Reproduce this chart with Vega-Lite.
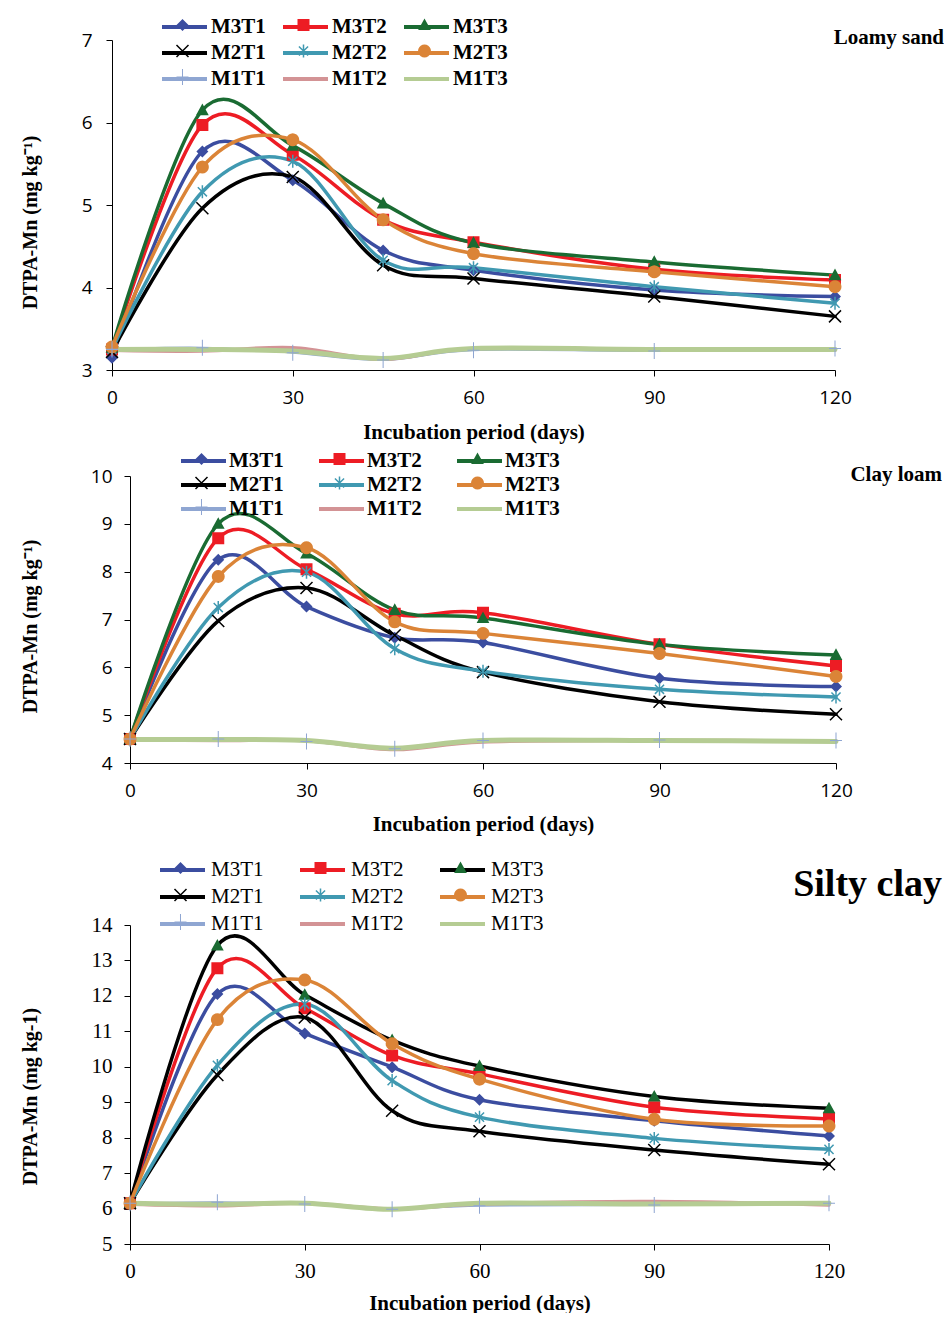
{
  "$schema": "https://vega.github.io/schema/vega-lite/v6.json",
  "padding": {"left": 20, "top": 13, "right": 0, "bottom": 0},
  "background": "white",
  "config": {
    "view": {"stroke": null},
    "axis": {"grid": false, "domainColor": "#000", "tickColor": "#000", "labelColor": "#000", "titleColor": "#000", "tickSize": 6, "domainWidth": 1, "tickWidth": 1, "labelOverlap": false},
    "title": {"offset": 0},
    "legend": {"padding": 0}
  },
  "datasets": {
    "p1": [
      {"d":0,"s":"M3T1","v":3.15},{"d":15,"s":"M3T1","v":5.65},{"d":30,"s":"M3T1","v":5.30},{"d":45,"s":"M3T1","v":4.45},{"d":60,"s":"M3T1","v":4.21},{"d":90,"s":"M3T1","v":3.97},{"d":120,"s":"M3T1","v":3.89},
      {"d":0,"s":"M3T2","v":3.25},{"d":15,"s":"M3T2","v":5.97},{"d":30,"s":"M3T2","v":5.61},{"d":45,"s":"M3T2","v":4.82},{"d":60,"s":"M3T2","v":4.55},{"d":90,"s":"M3T2","v":4.22},{"d":120,"s":"M3T2","v":4.09},
      {"d":0,"s":"M3T3","v":3.27},{"d":15,"s":"M3T3","v":6.15},{"d":30,"s":"M3T3","v":5.72},{"d":45,"s":"M3T3","v":5.02},{"d":60,"s":"M3T3","v":4.54},{"d":90,"s":"M3T3","v":4.31},{"d":120,"s":"M3T3","v":4.15},
      {"d":0,"s":"M2T1","v":3.22},{"d":15,"s":"M2T1","v":4.96},{"d":30,"s":"M2T1","v":5.34},{"d":45,"s":"M2T1","v":4.27},{"d":60,"s":"M2T1","v":4.11},{"d":90,"s":"M2T1","v":3.89},{"d":120,"s":"M2T1","v":3.65},
      {"d":0,"s":"M2T2","v":3.25},{"d":15,"s":"M2T2","v":5.16},{"d":30,"s":"M2T2","v":5.53},{"d":45,"s":"M2T2","v":4.33},{"d":60,"s":"M2T2","v":4.24},{"d":90,"s":"M2T2","v":4.01},{"d":120,"s":"M2T2","v":3.81},
      {"d":0,"s":"M2T3","v":3.28},{"d":15,"s":"M2T3","v":5.46},{"d":30,"s":"M2T3","v":5.79},{"d":45,"s":"M2T3","v":4.82},{"d":60,"s":"M2T3","v":4.41},{"d":90,"s":"M2T3","v":4.19},{"d":120,"s":"M2T3","v":4.01},
      {"d":0,"s":"M1T1","v":3.25},{"d":15,"s":"M1T1","v":3.27},{"d":30,"s":"M1T1","v":3.21},{"d":45,"s":"M1T1","v":3.12},{"d":60,"s":"M1T1","v":3.24},{"d":90,"s":"M1T1","v":3.23},{"d":120,"s":"M1T1","v":3.26},
      {"d":0,"s":"M1T2","v":3.24},{"d":15,"s":"M1T2","v":3.23},{"d":30,"s":"M1T2","v":3.27},{"d":45,"s":"M1T2","v":3.13},{"d":60,"s":"M1T2","v":3.26},{"d":90,"s":"M1T2","v":3.25},{"d":120,"s":"M1T2","v":3.24},
      {"d":0,"s":"M1T3","v":3.25},{"d":15,"s":"M1T3","v":3.25},{"d":30,"s":"M1T3","v":3.23},{"d":45,"s":"M1T3","v":3.14},{"d":60,"s":"M1T3","v":3.26},{"d":90,"s":"M1T3","v":3.25},{"d":120,"s":"M1T3","v":3.25}
    ],
    "p2": [
      {"d":0,"s":"M3T1","v":4.5},{"d":15,"s":"M3T1","v":8.25},{"d":30,"s":"M3T1","v":7.27},{"d":45,"s":"M3T1","v":6.62},{"d":60,"s":"M3T1","v":6.52},{"d":90,"s":"M3T1","v":5.77},{"d":120,"s":"M3T1","v":5.60},
      {"d":0,"s":"M3T2","v":4.5},{"d":15,"s":"M3T2","v":8.70},{"d":30,"s":"M3T2","v":8.05},{"d":45,"s":"M3T2","v":7.12},{"d":60,"s":"M3T2","v":7.14},{"d":90,"s":"M3T2","v":6.48},{"d":120,"s":"M3T2","v":6.03},
      {"d":0,"s":"M3T3","v":4.5},{"d":15,"s":"M3T3","v":9.00},{"d":30,"s":"M3T3","v":8.38},{"d":45,"s":"M3T3","v":7.20},{"d":60,"s":"M3T3","v":7.03},{"d":90,"s":"M3T3","v":6.48},{"d":120,"s":"M3T3","v":6.26},
      {"d":0,"s":"M2T1","v":4.5},{"d":15,"s":"M2T1","v":6.97},{"d":30,"s":"M2T1","v":7.66},{"d":45,"s":"M2T1","v":6.67},{"d":60,"s":"M2T1","v":5.90},{"d":90,"s":"M2T1","v":5.28},{"d":120,"s":"M2T1","v":5.02},
      {"d":0,"s":"M2T2","v":4.5},{"d":15,"s":"M2T2","v":7.25},{"d":30,"s":"M2T2","v":7.99},{"d":45,"s":"M2T2","v":6.39},{"d":60,"s":"M2T2","v":5.92},{"d":90,"s":"M2T2","v":5.54},{"d":120,"s":"M2T2","v":5.38},
      {"d":0,"s":"M2T3","v":4.5},{"d":15,"s":"M2T3","v":7.90},{"d":30,"s":"M2T3","v":8.50},{"d":45,"s":"M2T3","v":6.95},{"d":60,"s":"M2T3","v":6.71},{"d":90,"s":"M2T3","v":6.29},{"d":120,"s":"M2T3","v":5.81},
      {"d":0,"s":"M1T1","v":4.5},{"d":15,"s":"M1T1","v":4.50},{"d":30,"s":"M1T1","v":4.45},{"d":45,"s":"M1T1","v":4.30},{"d":60,"s":"M1T1","v":4.47},{"d":90,"s":"M1T1","v":4.48},{"d":120,"s":"M1T1","v":4.47},
      {"d":0,"s":"M1T2","v":4.48},{"d":15,"s":"M1T2","v":4.47},{"d":30,"s":"M1T2","v":4.47},{"d":45,"s":"M1T2","v":4.28},{"d":60,"s":"M1T2","v":4.44},{"d":90,"s":"M1T2","v":4.47},{"d":120,"s":"M1T2","v":4.46},
      {"d":0,"s":"M1T3","v":4.49},{"d":15,"s":"M1T3","v":4.49},{"d":30,"s":"M1T3","v":4.47},{"d":45,"s":"M1T3","v":4.31},{"d":60,"s":"M1T3","v":4.47},{"d":90,"s":"M1T3","v":4.47},{"d":120,"s":"M1T3","v":4.45}
    ],
    "p3": [
      {"d":0,"s":"M3T1","v":6.15},{"d":15,"s":"M3T1","v":12.05},{"d":30,"s":"M3T1","v":10.94},{"d":45,"s":"M3T1","v":9.99},{"d":60,"s":"M3T1","v":9.07},{"d":90,"s":"M3T1","v":8.48},{"d":120,"s":"M3T1","v":8.05},
      {"d":0,"s":"M3T2","v":6.15},{"d":15,"s":"M3T2","v":12.78},{"d":30,"s":"M3T2","v":11.65},{"d":45,"s":"M3T2","v":10.32},{"d":60,"s":"M3T2","v":9.80},{"d":90,"s":"M3T2","v":8.86},{"d":120,"s":"M3T2","v":8.53},
      {"d":0,"s":"M3T3","v":6.15},{"d":15,"s":"M3T3","v":13.42},{"d":30,"s":"M3T3","v":12.03},{"d":45,"s":"M3T3","v":10.75},{"d":60,"s":"M3T3","v":10.02},{"d":90,"s":"M3T3","v":9.16},{"d":120,"s":"M3T3","v":8.83},
      {"d":0,"s":"M2T1","v":6.15},{"d":15,"s":"M2T1","v":9.77},{"d":30,"s":"M2T1","v":11.39},{"d":45,"s":"M2T1","v":8.76},{"d":60,"s":"M2T1","v":8.18},{"d":90,"s":"M2T1","v":7.65},{"d":120,"s":"M2T1","v":7.25},
      {"d":0,"s":"M2T2","v":6.15},{"d":15,"s":"M2T2","v":10.04},{"d":30,"s":"M2T2","v":11.77},{"d":45,"s":"M2T2","v":9.61},{"d":60,"s":"M2T2","v":8.58},{"d":90,"s":"M2T2","v":7.98},{"d":120,"s":"M2T2","v":7.67},
      {"d":0,"s":"M2T3","v":6.15},{"d":15,"s":"M2T3","v":11.33},{"d":30,"s":"M2T3","v":12.45},{"d":45,"s":"M2T3","v":10.65},{"d":60,"s":"M2T3","v":9.65},{"d":90,"s":"M2T3","v":8.52},{"d":120,"s":"M2T3","v":8.33},
      {"d":0,"s":"M1T1","v":6.15},{"d":15,"s":"M1T1","v":6.18},{"d":30,"s":"M1T1","v":6.13},{"d":45,"s":"M1T1","v":5.98},{"d":60,"s":"M1T1","v":6.08},{"d":90,"s":"M1T1","v":6.10},{"d":120,"s":"M1T1","v":6.15},
      {"d":0,"s":"M1T2","v":6.12},{"d":15,"s":"M1T2","v":6.08},{"d":30,"s":"M1T2","v":6.15},{"d":45,"s":"M1T2","v":5.99},{"d":60,"s":"M1T2","v":6.13},{"d":90,"s":"M1T2","v":6.20},{"d":120,"s":"M1T2","v":6.10},
      {"d":0,"s":"M1T3","v":6.15},{"d":15,"s":"M1T3","v":6.12},{"d":30,"s":"M1T3","v":6.15},{"d":45,"s":"M1T3","v":5.98},{"d":60,"s":"M1T3","v":6.15},{"d":90,"s":"M1T3","v":6.13},{"d":120,"s":"M1T3","v":6.15}
    ]
  },
  "spacing": 5,
  "resolve": {"scale": {"color": "independent", "fill": "independent", "shape": "independent"}, "legend": {"color": "independent", "fill": "independent", "shape": "independent"}},
  "vconcat": [
    {
      "width": 723, "height": 330,
      "data": {"name": "p1"},
      "title": {"text": "Loamy sand", "anchor": "end", "frame": "group", "orient": "top", "font": "Liberation Serif", "fontSize": 21, "fontWeight": "bold", "color": "#000", "baseline": "middle", "dx": 109, "dy": 50},
      "encoding": {
        "x": {"field": "d", "type": "quantitative", "scale": {"domain": [0, 120], "nice": false, "zero": false},
          "axis": {"values": [0, 30, 60, 90, 120], "title": "Incubation period (days)", "labelFont": "Open Sans", "labelFontSize": 19, "labelPadding": 12, "labelFlush": false, "titleFont": "Liberation Serif", "titleFontSize": 21, "titleFontWeight": "bold", "titleBaseline": "middle", "titleY": 62}},
        "y": {"field": "v", "type": "quantitative", "scale": {"domain": [3, 7], "nice": false, "zero": false},
          "axis": {"values": [3, 4, 5, 6, 7], "title": "DTPA-Mn  (mg kg⁻¹)", "labelFont": "Open Sans", "labelFontSize": 19, "labelPadding": 14, "titleFont": "Liberation Serif", "titleFontSize": 20, "titleFontWeight": "bold", "titleBaseline": "middle", "titleX": -82, "titleY": 182}}
      },
      "layer": [
        {
          "mark": {"type": "line", "interpolate": "cardinal", "strokeCap": "round", "strokeJoin": "round"},
          "encoding": {
            "color": {"field": "s", "type": "nominal", "sort": ["M3T1","M3T2","M3T3","M2T1","M2T2","M2T3","M1T1","M1T2","M1T3"],
              "scale": {"range": ["#3B4DA0","#ED1C24","#1A6B32","#000000","#4099B1","#DB8437","#8FA6D2","#D39395","#B5CC93"]},
              "legend": {"orient": "none", "legendX": 48, "legendY": -27, "direction": "horizontal", "columns": 3, "title": null, "symbolType": "M-1,0L2.75,0M7.75,0L7.75,0", "symbolSize": 576, "symbolStrokeWidth": 4, "symbolOpacity": 1, "labelFont": "Liberation Serif", "labelFontSize": 21, "labelFontWeight": "bold", "labelColor": "#000", "labelOffset": 23, "columnPadding": 0, "rowPadding": 2, "gridAlign": "all", "padding": 0}},
            "strokeWidth": {"condition": [{"test": "datum.s === 'M1T1'", "value": 2}, {"test": "datum.s === 'M1T3'", "value": 5}], "value": 3.5}
          }
        },
        {
          "mark": {"type": "point", "filled": true, "size": 576, "opacity": 1, "strokeWidth": 0},
          "encoding": {
            "fill": {"field": "s", "type": "nominal",
              "scale": {"domain": ["M3T1","M3T2","M3T3","M2T1","M2T2","M2T3","M1T1","M1T2","M1T3"], "range": ["#3B4DA0","#ED1C24","#1A6B32","#000000","#4099B1","#DB8437","#8FA6D2","#D39395","#B5CC93"]},
              "legend": {"orient": "none", "legendX": 48, "legendY": -27, "direction": "horizontal", "columns": 3, "title": null, "symbolSize": 576, "symbolOffset": 10.5, "symbolStrokeWidth": 0, "symbolOpacity": 1, "labelExpr": "''", "labelFont": "Liberation Serif", "labelFontSize": 21, "labelFontWeight": "bold", "labelOpacity": 0, "labelOffset": 23, "columnPadding": 0, "rowPadding": 2, "gridAlign": "all", "padding": 0}},
            "shape": {"field": "s", "type": "nominal",
              "scale": {"domain": ["M3T1","M3T2","M3T3","M2T1","M2T2","M2T3","M1T1","M1T2","M1T3"], "range": [
                "M-2.54,0L7.54,0M0,-1L0,1M0,-0.5L0.5,0L0,0.5L-0.5,0Z",
                "M-2.54,0L7.54,0M0,-1L0,1M-0.5,-0.5L0.5,-0.5L0.5,0.5L-0.5,0.5Z",
                "M-2.54,0L7.54,0M0,-1L0,1M0,-0.55L0.53,0.42L-0.53,0.42Z",
                "M-2.54,0L7.54,0M0,-1L0,1M-0.456,-0.544L0.544,0.456L0.456,0.544L-0.544,-0.456ZM-0.544,0.456L0.456,-0.544L0.544,-0.456L-0.456,0.544Z",
                "M-2.54,0L7.54,0M0,-1L0,1M-0.0625,-0.54L0.0625,-0.54L0.0625,0.54L-0.0625,0.54ZM-0.336,-0.424L0.424,0.336L0.336,0.424L-0.424,-0.336ZM-0.424,0.336L0.336,-0.424L0.424,-0.336L-0.336,0.424Z",
                "M-2.54,0L7.54,0M0,-1L0,1M0.54,0L0.514,0.167L0.437,0.317L0.317,0.437L0.167,0.514L0,0.54L-0.167,0.514L-0.317,0.437L-0.437,0.317L-0.514,0.167L-0.54,0L-0.514,-0.167L-0.437,-0.317L-0.317,-0.437L-0.167,-0.514L0,-0.54L0.167,-0.514L0.317,-0.437L0.437,-0.317L0.514,-0.167Z",
                "M-2.54,0L7.54,0M0,-1L0,1M-0.042,-0.667L0.042,-0.667L0.042,0.667L-0.042,0.667ZM-0.5,-0.042L0.5,-0.042L0.5,0.042L-0.5,0.042Z",
                "M-2.54,0L7.54,0M0,-1L0,1",
                "M-2.54,0L7.54,0M0,-1L0,1"]},
              "legend": {"orient": "none", "legendX": 48, "legendY": -27, "direction": "horizontal", "columns": 3, "title": null, "symbolSize": 576, "symbolOffset": 10.5, "symbolStrokeWidth": 0, "symbolOpacity": 1, "labelExpr": "''", "labelFont": "Liberation Serif", "labelFontSize": 21, "labelFontWeight": "bold", "labelOpacity": 0, "labelOffset": 23, "columnPadding": 0, "rowPadding": 2, "gridAlign": "all", "padding": 0}}
          }
        }
      ]
    },
    {
      "spacing": 22,
      "resolve": {"scale": {"color": "independent", "fill": "independent", "shape": "independent"}, "legend": {"color": "independent", "fill": "independent", "shape": "independent"}},
      "vconcat": [
        {
          "spacing": 17,
          "bounds": "flush",
          "resolve": {"scale": {"color": "independent", "fill": "independent", "shape": "independent"}, "legend": {"color": "independent", "fill": "independent", "shape": "independent"}},
          "hconcat": [
            {"width": 1, "height": 1, "data": {"values": [{"a": 1}]}, "mark": {"type": "point", "opacity": 0}},
            {
              "width": 706, "height": 287,
              "data": {"name": "p2"},
              "title": {"text": "Clay loam", "anchor": "end", "frame": "group", "orient": "top", "font": "Liberation Serif", "fontSize": 21, "fontWeight": "bold", "color": "#000", "baseline": "middle", "dx": 106, "dy": 53},
              "encoding": {
                "x": {"field": "d", "type": "quantitative", "scale": {"domain": [0, 120], "nice": false, "zero": false},
                  "axis": {"values": [0, 30, 60, 90, 120], "title": "Incubation period (days)", "labelFont": "Open Sans", "labelFontSize": 19, "labelPadding": 12, "labelFlush": false, "titleFont": "Liberation Serif", "titleFontSize": 21, "titleFontWeight": "bold", "titleBaseline": "middle", "titleY": 61}},
                "y": {"field": "v", "type": "quantitative", "scale": {"domain": [4, 10], "nice": false, "zero": false},
                  "axis": {"values": [4, 5, 6, 7, 8, 9, 10], "title": "DTPA-Mn  (mg kg⁻¹)", "labelFont": "Open Sans", "labelFontSize": 19, "labelPadding": 12, "titleFont": "Liberation Serif", "titleFontSize": 20, "titleFontWeight": "bold", "titleBaseline": "middle", "titleX": -100, "titleY": 150}}
              },
              "layer": [
                {
                  "mark": {"type": "line", "interpolate": "cardinal", "strokeCap": "round", "strokeJoin": "round"},
                  "encoding": {
                    "color": {"field": "s", "type": "nominal", "sort": ["M3T1","M3T2","M3T3","M2T1","M2T2","M2T3","M1T1","M1T2","M1T3"],
                      "scale": {"range": ["#3B4DA0","#ED1C24","#1A6B32","#000000","#4099B1","#DB8437","#8FA6D2","#D39395","#B5CC93"]},
                      "legend": {"orient": "none", "legendX": 49, "legendY": -29, "direction": "horizontal", "columns": 3, "title": null, "symbolType": "M-1,0L2.75,0M7.75,0L7.75,0", "symbolSize": 576, "symbolStrokeWidth": 4, "symbolOpacity": 1, "labelFont": "Liberation Serif", "labelFontSize": 21, "labelFontWeight": "bold", "labelColor": "#000", "labelOffset": 22, "columnPadding": 17, "rowPadding": 0, "gridAlign": "all", "padding": 0}},
                    "strokeWidth": {"condition": [{"test": "datum.s === 'M1T1'", "value": 2}, {"test": "datum.s === 'M1T3'", "value": 5}], "value": 3.5}
                  }
                },
                {
                  "mark": {"type": "point", "filled": true, "size": 576, "opacity": 1, "strokeWidth": 0},
                  "encoding": {
                    "fill": {"field": "s", "type": "nominal",
                      "scale": {"domain": ["M3T1","M3T2","M3T3","M2T1","M2T2","M2T3","M1T1","M1T2","M1T3"], "range": ["#3B4DA0","#ED1C24","#1A6B32","#000000","#4099B1","#DB8437","#8FA6D2","#D39395","#B5CC93"]},
                      "legend": {"orient": "none", "legendX": 49, "legendY": -29, "direction": "horizontal", "columns": 3, "title": null, "symbolSize": 576, "symbolOffset": 10.5, "symbolStrokeWidth": 0, "symbolOpacity": 1, "labelExpr": "''", "labelFont": "Liberation Serif", "labelFontSize": 21, "labelFontWeight": "bold", "labelOpacity": 0, "labelOffset": 22, "columnPadding": 17, "rowPadding": 0, "gridAlign": "all", "padding": 0}},
                    "shape": {"field": "s", "type": "nominal",
                      "scale": {"domain": ["M3T1","M3T2","M3T3","M2T1","M2T2","M2T3","M1T1","M1T2","M1T3"], "range": [
                        "M-2.54,0L7.54,0M0,-1L0,1M0,-0.5L0.5,0L0,0.5L-0.5,0Z",
                        "M-2.54,0L7.54,0M0,-1L0,1M-0.5,-0.5L0.5,-0.5L0.5,0.5L-0.5,0.5Z",
                        "M-2.54,0L7.54,0M0,-1L0,1M0,-0.55L0.53,0.42L-0.53,0.42Z",
                        "M-2.54,0L7.54,0M0,-1L0,1M-0.456,-0.544L0.544,0.456L0.456,0.544L-0.544,-0.456ZM-0.544,0.456L0.456,-0.544L0.544,-0.456L-0.456,0.544Z",
                        "M-2.54,0L7.54,0M0,-1L0,1M-0.0625,-0.54L0.0625,-0.54L0.0625,0.54L-0.0625,0.54ZM-0.336,-0.424L0.424,0.336L0.336,0.424L-0.424,-0.336ZM-0.424,0.336L0.336,-0.424L0.424,-0.336L-0.336,0.424Z",
                        "M-2.54,0L7.54,0M0,-1L0,1M0.54,0L0.514,0.167L0.437,0.317L0.317,0.437L0.167,0.514L0,0.54L-0.167,0.514L-0.317,0.437L-0.437,0.317L-0.514,0.167L-0.54,0L-0.514,-0.167L-0.437,-0.317L-0.317,-0.437L-0.167,-0.514L0,-0.54L0.167,-0.514L0.317,-0.437L0.437,-0.317L0.514,-0.167Z",
                        "M-2.54,0L7.54,0M0,-1L0,1M-0.042,-0.667L0.042,-0.667L0.042,0.667L-0.042,0.667ZM-0.5,-0.042L0.5,-0.042L0.5,0.042L-0.5,0.042Z",
                        "M-2.54,0L7.54,0M0,-1L0,1",
                        "M-2.54,0L7.54,0M0,-1L0,1"]},
                      "legend": {"orient": "none", "legendX": 49, "legendY": -29, "direction": "horizontal", "columns": 3, "title": null, "symbolSize": 576, "symbolOffset": 10.5, "symbolStrokeWidth": 0, "symbolOpacity": 1, "labelExpr": "''", "labelFont": "Liberation Serif", "labelFontSize": 21, "labelFontWeight": "bold", "labelOpacity": 0, "labelOffset": 22, "columnPadding": 17, "rowPadding": 0, "gridAlign": "all", "padding": 0}}
                  }
                }
              ]
            }
          ]
        },
        {
          "spacing": 17,
          "bounds": "flush",
          "resolve": {"scale": {"color": "independent", "fill": "independent", "shape": "independent"}, "legend": {"color": "independent", "fill": "independent", "shape": "independent"}},
          "hconcat": [
            {"width": 1, "height": 1, "data": {"values": [{"a": 1}]}, "mark": {"type": "point", "opacity": 0}},
            {
              "width": 699, "height": 319,
              "data": {"name": "p3"},
              "title": {"text": "Silty clay", "anchor": "end", "frame": "group", "orient": "top", "font": "Liberation Serif", "fontSize": 38, "fontWeight": "bold", "color": "#000", "baseline": "middle", "dx": 113, "dy": 71},
              "encoding": {
                "x": {"field": "d", "type": "quantitative", "scale": {"domain": [0, 120], "nice": false, "zero": false},
                  "axis": {"values": [0, 30, 60, 90, 120], "title": "Incubation period (days)", "labelFont": "Liberation Serif", "labelFontSize": 21, "labelPadding": 10, "labelFlush": false, "titleFont": "Liberation Serif", "titleFontSize": 21, "titleFontWeight": "bold", "titleBaseline": "middle", "titleY": 59}},
                "y": {"field": "v", "type": "quantitative", "scale": {"domain": [5, 14], "nice": false, "zero": false},
                  "axis": {"values": [5, 6, 7, 8, 9, 10, 11, 12, 13, 14], "title": "DTPA-Mn  (mg kg-1)", "labelFont": "Liberation Serif", "labelFontSize": 21, "labelPadding": 12, "titleFont": "Liberation Serif", "titleFontSize": 20, "titleFontWeight": "bold", "titleBaseline": "middle", "titleX": -100, "titleY": 171}}
              },
              "layer": [
                {
                  "mark": {"type": "line", "interpolate": "cardinal", "strokeCap": "round", "strokeJoin": "round"},
                  "encoding": {
                    "color": {"field": "s", "type": "nominal", "sort": ["M3T1","M3T2","M3T3","M2T1","M2T2","M2T3","M1T1","M1T2","M1T3"],
                      "scale": {"range": ["#3B4DA0","#ED1C24","#000000","#000000","#4099B1","#DB8437","#8FA6D2","#D39395","#B5CC93"]},
                      "legend": {"orient": "none", "legendX": 28, "legendY": -69, "direction": "horizontal", "columns": 3, "title": null, "symbolType": "M-1,0L2.75,0M7.75,0L7.75,0", "symbolSize": 576, "symbolStrokeWidth": 4, "symbolOpacity": 1, "labelFont": "Liberation Serif", "labelFontSize": 21, "labelFontWeight": "normal", "labelColor": "#000", "labelOffset": 25, "columnPadding": 19, "rowPadding": 3, "gridAlign": "all", "padding": 0}},
                    "strokeWidth": {"condition": [{"test": "datum.s === 'M1T1'", "value": 2}, {"test": "datum.s === 'M1T3'", "value": 5}], "value": 3.5}
                  }
                },
                {
                  "mark": {"type": "point", "filled": true, "size": 576, "opacity": 1, "strokeWidth": 0},
                  "encoding": {
                    "fill": {"field": "s", "type": "nominal",
                      "scale": {"domain": ["M3T1","M3T2","M3T3","M2T1","M2T2","M2T3","M1T1","M1T2","M1T3"], "range": ["#3B4DA0","#ED1C24","#1A6B32","#000000","#4099B1","#DB8437","#8FA6D2","#D39395","#B5CC93"]},
                      "legend": {"orient": "none", "legendX": 28, "legendY": -69, "direction": "horizontal", "columns": 3, "title": null, "symbolSize": 576, "symbolOffset": 10.5, "symbolStrokeWidth": 0, "symbolOpacity": 1, "labelExpr": "''", "labelFont": "Liberation Serif", "labelFontSize": 21, "labelFontWeight": "normal", "labelOpacity": 0, "labelOffset": 25, "columnPadding": 19, "rowPadding": 3, "gridAlign": "all", "padding": 0}},
                    "shape": {"field": "s", "type": "nominal",
                      "scale": {"domain": ["M3T1","M3T2","M3T3","M2T1","M2T2","M2T3","M1T1","M1T2","M1T3"], "range": [
                        "M-2.54,0L7.54,0M0,-1L0,1M0,-0.5L0.5,0L0,0.5L-0.5,0Z",
                        "M-2.54,0L7.54,0M0,-1L0,1M-0.5,-0.5L0.5,-0.5L0.5,0.5L-0.5,0.5Z",
                        "M-2.54,0L7.54,0M0,-1L0,1M0,-0.55L0.53,0.42L-0.53,0.42Z",
                        "M-2.54,0L7.54,0M0,-1L0,1M-0.456,-0.544L0.544,0.456L0.456,0.544L-0.544,-0.456ZM-0.544,0.456L0.456,-0.544L0.544,-0.456L-0.456,0.544Z",
                        "M-2.54,0L7.54,0M0,-1L0,1M-0.0625,-0.54L0.0625,-0.54L0.0625,0.54L-0.0625,0.54ZM-0.336,-0.424L0.424,0.336L0.336,0.424L-0.424,-0.336ZM-0.424,0.336L0.336,-0.424L0.424,-0.336L-0.336,0.424Z",
                        "M-2.54,0L7.54,0M0,-1L0,1M0.54,0L0.514,0.167L0.437,0.317L0.317,0.437L0.167,0.514L0,0.54L-0.167,0.514L-0.317,0.437L-0.437,0.317L-0.514,0.167L-0.54,0L-0.514,-0.167L-0.437,-0.317L-0.317,-0.437L-0.167,-0.514L0,-0.54L0.167,-0.514L0.317,-0.437L0.437,-0.317L0.514,-0.167Z",
                        "M-2.54,0L7.54,0M0,-1L0,1M-0.042,-0.667L0.042,-0.667L0.042,0.667L-0.042,0.667ZM-0.5,-0.042L0.5,-0.042L0.5,0.042L-0.5,0.042Z",
                        "M-2.54,0L7.54,0M0,-1L0,1",
                        "M-2.54,0L7.54,0M0,-1L0,1"]},
                      "legend": {"orient": "none", "legendX": 28, "legendY": -69, "direction": "horizontal", "columns": 3, "title": null, "symbolSize": 576, "symbolOffset": 10.5, "symbolStrokeWidth": 0, "symbolOpacity": 1, "labelExpr": "''", "labelFont": "Liberation Serif", "labelFontSize": 21, "labelFontWeight": "normal", "labelOpacity": 0, "labelOffset": 25, "columnPadding": 19, "rowPadding": 3, "gridAlign": "all", "padding": 0}}
                  }
                }
              ]
            }
          ]
        }
      ]
    }
  ]
}
